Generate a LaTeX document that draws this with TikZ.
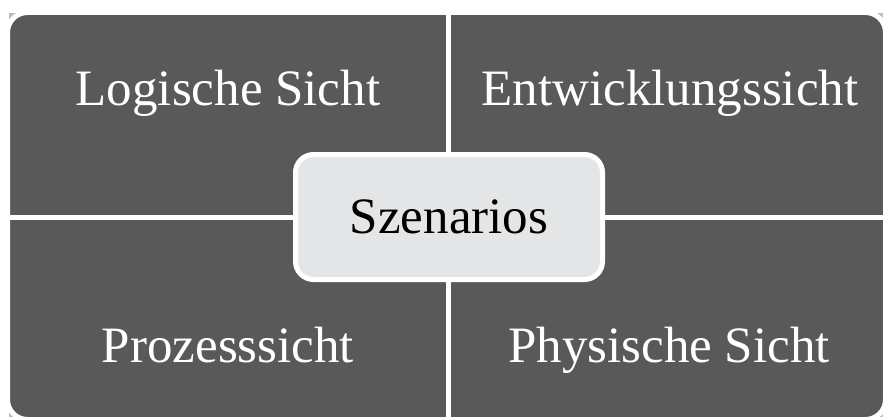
\documentclass[tikz,border=0pt]{standalone}
\usepackage{fontspec}
\setmainfont{Liberation Serif}
\usepackage{tikz}
\usetikzlibrary{positioning}
\definecolor{viewgray}{HTML}{595959}
\definecolor{scengray}{HTML}{E4E5E7}
\definecolor{edgegray}{HTML}{BDBDBD}
\tikzstyle{views} = [fill=viewgray, draw=white, line width=5pt, rounded corners=20pt]
\tikzstyle{divider} = [draw=white, line width=5pt]
\tikzstyle{viewtext} = [text=white, font=\fontsize{51}{60}\selectfont, anchor=base, inner sep=0pt]
\tikzstyle{scenario} = [draw=white, fill=scengray, line width=5pt, rectangle, rounded corners=18pt,
    minimum width=307pt, minimum height=125pt, font=\fontsize{51}{60}\selectfont]

\begin{document}
\begin{tikzpicture}[x=1pt, y=-1pt]
	  \useasboundingbox (0,0) rectangle (883,417);
	  \fill [edgegray] (9,13) rectangle (883,417);
	  \draw [views] (7.5,12.5) rectangle (885.5,419.5);
	  % the four views
	  \coordinate (top) at (448.5,12.5);
	  \coordinate (bottom) at (448.5,419.5);
	  \coordinate (left) at (7.5,217.5);
	  \coordinate (right) at (885.5,217.5);
	  \draw [divider] (top) -- (bottom);
	  \draw [divider] (left) -- (right);
	  \node [viewtext] (logical) at (228,106) {Logische Sicht};
	  \node [viewtext] (development) at (670,106) {Entwicklungssicht};
	  \node [viewtext] (process) at (228,362) {Prozesssicht};
	  \node [viewtext] (physical) at (669,362) {Physische Sicht};
	  % scenarios in the middle
	  \node [scenario] (scenarios) at (449,217) {Szenarios};
	\end{tikzpicture}
\end{document}
